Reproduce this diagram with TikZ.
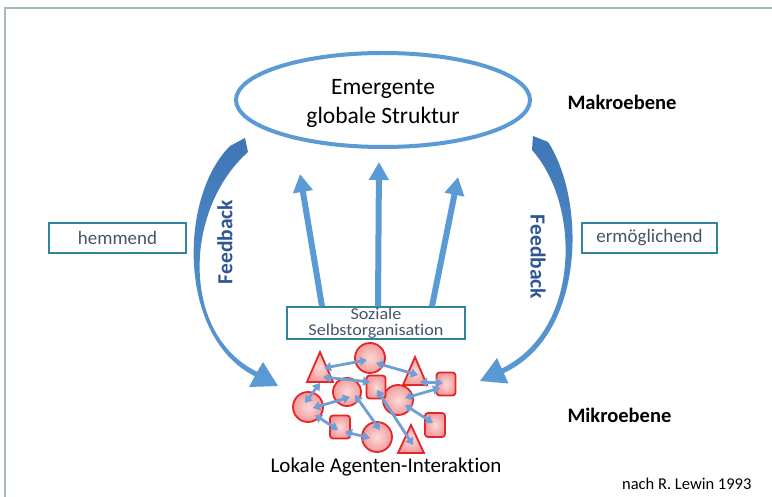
\documentclass[tikz,border=0pt]{standalone}
\usepackage{fontspec}
\setmainfont{Carlito}[Ligatures=NoCommon]
\usetikzlibrary{arrows.meta,calc,shapes.geometric}
\definecolor{officeblue}{HTML}{5B9BD5}
\definecolor{fbdark}{HTML}{3F76B6}
\definecolor{linkblue}{HTML}{6F9FD4}
\definecolor{boxline}{HTML}{31849B}
\definecolor{boxtext}{HTML}{44546A}
\definecolor{fbtext}{HTML}{2F5597}
\definecolor{framec}{HTML}{A6B9BF}
\definecolor{agentred}{HTML}{E3262A}
\definecolor{agentlight}{HTML}{FCDADA}
\definecolor{agentmid}{HTML}{F29C9C}
\tikzset{
  labelbox/.style={draw=boxline, line width=1.4pt, text=boxtext, inner sep=0pt,
    font=\fontsize{19}{20}\selectfont},
  uparrow/.style={draw=officeblue, line width=6pt,
    -{Triangle[width=19pt,length=18pt]}},
  agent/.style={draw=agentred, line width=1.8pt, inner color=agentlight, outer color=agentmid},
  agentcirc/.style={agent, circle, minimum size=30pt, inner sep=0pt},
  agentsq/.style={agent, rectangle, rounded corners=3pt, minimum width=19pt, minimum height=23pt, inner sep=0pt},
  link/.style={draw=linkblue, line width=2.8pt,
    {Triangle[width=9pt,length=7pt]}-{Triangle[width=9pt,length=7pt]}},
  feedbk/.style={top color=fbdark, bottom color=officeblue, draw=none},
  fbword/.style={text=fbtext, font=\bfseries\fontsize{21.5}{24}\selectfont},
  level/.style={font=\bfseries\fontsize{20.5}{24}\selectfont}
}
\begin{document}
\begin{tikzpicture}[x=1pt,y=-1pt]
\useasboundingbox (0,0) rectangle (772,497);
\fill[white] (0,0) rectangle (772,497);
% outer frame (top and left edges)
\draw[framec, line width=1.5pt] (5,497) -- (5,8) -- (772,8);

% macro level
\node[ellipse, draw=officeblue, line width=4pt, minimum width=294pt, minimum height=94pt,
  inner sep=0pt] (emerg) at (383,100) {};
\node[align=center, font=\fontsize{23.5}{29}\selectfont] (emergtxt) at ($(emerg.center)+(0,3)$)
  {Emergente\\globale Struktur};
\node[level, anchor=west] (makro) at (564,102) {Makroebene};
\node[level, anchor=west] (mikro) at (564,415) {Mikroebene};

% side labels
\node[labelbox, minimum width=137pt, minimum height=30pt] (hemm) at (117.5,238) {hemmend};
\node[labelbox, minimum width=135pt, minimum height=30pt] (ermoeg) at (649.5,238) {ermöglichend};

% self-organisation box and upward arrows
\node[labelbox, minimum width=178pt, minimum height=32pt, align=center,
  font=\fontsize{16.5}{16.5}\selectfont\addfontfeature{FakeStretch=1.1}] (soz) at (376,323)
  {Soziale\\Selbstorganisation};
\coordinate (tipL) at (300,174);
\coordinate (tipM) at (379,162);
\coordinate (tipR) at (458,177);
\draw[uparrow] ($(soz.north)+(-54,0)$) -- (tipL);
\draw[uparrow] ($(soz.north)+(2,0)$) -- (tipM);
\draw[uparrow] ($(soz.north)+(56,0)$) -- (tipR);

% feedback arrows
\path[feedbk] (230,146) .. controls (178,198) and (178,338) .. (254.8,376.2)
  -- (249,387) -- (278,386) -- (263,362) -- (257.2,371.8)
  .. controls (181,335) and (183,210) .. (248,152) -- (245,138) -- cycle;
\path[feedbk] (548,142) .. controls (586,200) and (586,335) .. (503.8,373)
  -- (508.5,383.5) -- (480,381) -- (497,358) -- (501.7,368.5)
  .. controls (581,330) and (581,205) .. (532,150) -- (533,136) -- cycle;
\node[fbword, rotate=90] (fbL) at (225,242) {Feedback};
\node[fbword, rotate=-90] (fbR) at (538,257) {Feedback};

% local agents
\coordinate (t1) at (320,372);
\coordinate (t2) at (415,375);
\coordinate (t3) at (411,443);
\path[agent] (t1) ++(0,-20) -- ++(13,30) -- ++(-26,0) -- cycle;
\path[agent] (t2) ++(0,-18) -- ++(12,28) -- ++(-24,0) -- cycle;
\path[agent] (t3) ++(0,-18) -- ++(13,28) -- ++(-26,0) -- cycle;
\node[agentcirc] (cA) at (370,358) {};
\node[agentcirc, minimum size=28pt] (cB) at (347,392) {};
\node[agentcirc] (cC) at (398,400) {};
\node[agentcirc] (cD) at (308,407) {};
\node[agentcirc] (cE) at (377,437) {};
\node[agentsq] (s1) at (376,387) {};
\node[agentsq] (s2) at (446,384) {};
\node[agentsq, minimum width=20pt] (s3) at (340,427) {};
\node[agentsq, minimum width=20pt, minimum height=24pt] (s4) at (435,425) {};

% interactions
\draw[link] ($(t1)+(4,-4)$) -- ($(cA)+(-3,2)$);
\draw[link] ($(cA)+(6,5)$) -- ($(t2)+(3,0)$);
\draw[link] ($(t2)+(5,7)$) -- ($(s2)+(-3,-1)$);
\draw[link] ($(s2)+(-6,4)$) -- ($(cC)+(7,-2)$);
\draw[link] ($(t1)+(3,5)$) -- ($(s1)+(-6,-5)$);
\draw[link] ($(t1)+(0,11)$) -- ($(cD)+(-3,-4)$);
\draw[link] ($(cD)+(5,1)$) -- ($(cB)+(3,5)$);
\draw[link] ($(cD)+(7,8)$) -- ($(s3)+(-2,3)$);
\draw[link] ($(s3)+(5,5)$) -- ($(cE)+(-7,1)$);
\draw[link] ($(cB)+(8,3)$) -- ($(cE)+(3,-7)$);
\draw[link] ($(s1)+(1,3)$) -- ($(t3)+(2,2)$);
\draw[link] ($(cC)+(7,5)$) -- ($(s4)+(-2,-2)$);

\node[font=\fontsize{21}{24}\selectfont] (lokal) at (386,467) {Lokale Agenten-Interaktion};
\node[font=\fontsize{16.5}{18}\selectfont, anchor=east] (quelle) at (755,484) {nach R. Lewin 1993};
\end{tikzpicture}
\end{document}
